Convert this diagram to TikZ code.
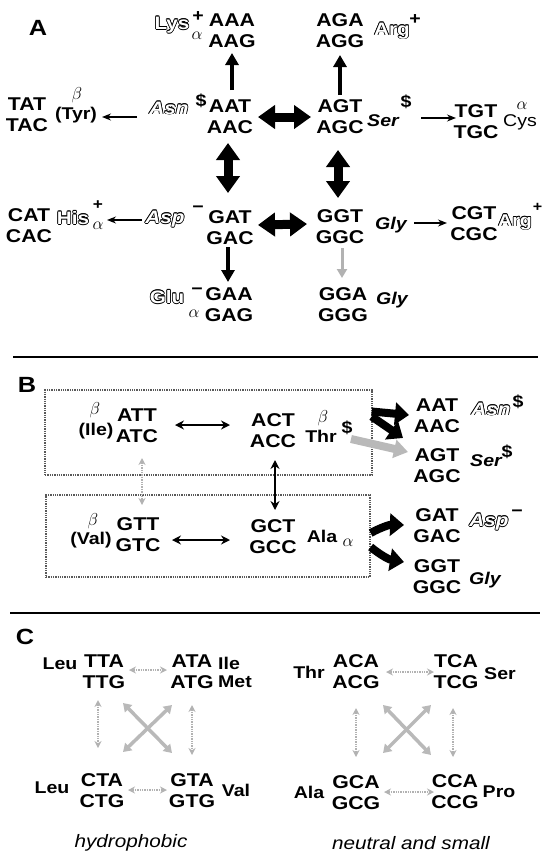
\documentclass[tikz,border=0pt]{standalone}
\usepackage{fontspec}
\setmainfont[FakeStretch=1.15]{Liberation Sans}
\newfontfamily\codfont[FakeStretch=1.15]{Liberation Sans}
\usetikzlibrary{arrows.meta,calc}
\newcommand\hol[1]{{\setbox0=\hbox{#1}%
\rlap{\kern-.7pt\copy0}\rlap{\kern.7pt\copy0}%
\rlap{\raise.7pt\copy0}\rlap{\lower.7pt\copy0}%
\rlap{\kern-.5pt\raise.5pt\copy0}\rlap{\kern.5pt\raise.5pt\copy0}%
\rlap{\kern-.5pt\lower.5pt\copy0}\rlap{\kern.5pt\lower.5pt\copy0}%
{\color{white}\box0}}}
\tikzset{
 cod/.style={font=\codfont\bfseries\fontsize{18.5}{21}\selectfont, align=center, inner sep=0pt},
 lab/.style={font=\bfseries\fontsize{17}{20}\selectfont, inner sep=0pt},
 labi/.style={font=\bfseries\itshape\fontsize{17}{20}\selectfont, inner sep=0pt},
 hl/.style={font=\bfseries\fontsize{18}{20}\selectfont, inner sep=0pt},
 hli/.style={font=\bfseries\itshape\fontsize{18}{20}\selectfont, inner sep=0pt},
 supr/.style={font=\bfseries\fontsize{17}{17}\selectfont, inner sep=0pt},
 grk/.style={font=\fontsize{16}{16}\selectfont, inner sep=0pt},
 panel/.style={font=\bfseries\fontsize{22}{22}\selectfont, inner sep=0pt},
 capt/.style={font=\itshape\fontsize{18}{20}\selectfont, inner sep=0pt},
 bbox/.style={draw=gray!70!black, densely dotted, line width=1.3pt, inner sep=0pt},
 sep/.style={line width=1.5pt},
 tarr/.style={line width=1.3pt, -{Stealth[length=9pt,width=7pt]}},
 tdbl/.style={line width=1.7pt, {Stealth[length=9pt,width=9pt]}-{Stealth[length=9pt,width=9pt]}},
 bigdbl/.style={line width=9pt, {Triangle[length=17pt,width=23pt]}-{Triangle[length=17pt,width=23pt]}},
 med/.style={line width=4.5pt, -{Triangle[length=12pt,width=13pt]}},
 gmed/.style={line width=3pt, gray!60, -{Triangle[length=9pt,width=10pt]}},
 bigB/.style={line width=8pt, -{Triangle[length=14pt,width=22pt]}},
 gbigB/.style={line width=8pt, gray!55, -{Triangle[length=14pt,width=18pt]}},
 gdbl/.style={line width=1.4pt, gray!60, densely dotted, {Stealth[open,length=7pt,width=7pt]}-{Stealth[open,length=7pt,width=7pt]}},
 gx/.style={line width=3.5pt, gray!55, {Triangle[length=8pt,width=10pt]}-{Triangle[length=8pt,width=10pt]}}
}
\begin{document}
\begin{tikzpicture}[x=1pt,y=-1pt]
\useasboundingbox (0,0) rectangle (542,854);
% ---------------- Panel A
\node[panel] (pA) at (38,28) {A};
\node[cod] (aaa) at (232,31) {AAA\\AAG};
\node[hl] (lys) at (172,25) {\hol{Lys}};
\node[supr] (lysp) at (198,17) {+};
\node[grk] (lysa) at (197,36) {$\alpha$};
\node[cod] (aga) at (340,31) {AGA\\AGG};
\node[hl] (arg1) at (392,31) {\hol{Arg}};
\node[supr] (arg1p) at (415,20) {+};
\node[cod] (aat) at (230,117) {AAT\\AAC};
\node[cod] (agt) at (340,117) {AGT\\AGC};
\node[hli] (asn) at (169,108) {\hol{Asn}};
\node[supr] (asnd) at (201,101) {\$};
\node[lab] (tyr) at (76,115) {(Tyr)};
\node[grk] (tyrb) at (77,95) {$\beta$};
\node[cod] (tat) at (27,115) {TAT\\TAC};
\node[labi] (ser) at (383,121) {Ser};
\node[supr] (serd) at (406,102) {\$};
\node[cod] (tgt) at (476,122) {TGT\\TGC};
\node[font=\fontsize{17}{17}\selectfont, inner sep=0pt] (cys) at (520,122) {Cys};
\node[grk] (cysa) at (522,106) {$\alpha$};
\node[cod] (gat) at (230,228) {GAT\\GAC};
\node[cod] (ggt) at (340,227) {GGT\\GGC};
\node[hli] (asp) at (165,219) {\hol{Asp}};
\node[supr] (aspm) at (198,209) {−};
\node[hl] (his) at (73,218) {\hol{His}};
\node[inner sep=0pt, font=\bfseries\fontsize{15}{15}\selectfont] (hisp) at (98,205) {+};
\node[grk] (hisa) at (98,226) {$\alpha$};
\node[cod] (cat) at (29,226) {CAT\\CAC};
\node[labi] (gly1) at (391,225) {Gly};
\node[cod] (cgt) at (474,224) {CGT\\CGC};
\node[hl, font=\bfseries\fontsize{17}{20}\selectfont] (arg2) at (515,222) {\hol{Arg}};
\node[inner sep=0pt, font=\bfseries\fontsize{14}{14}\selectfont] (arg2p) at (537.5,207) {+};
\node[cod] (gaa) at (229,305) {GAA\\GAG};
\node[hl] (glu) at (167,297) {\hol{Glu}};
\node[supr] (glum) at (197,291) {−};
\node[grk] (glua) at (194,314) {$\alpha$};
\node[cod] (gga) at (343,305) {GGA\\GGG};
\node[labi] (gly2) at (392,300) {Gly};
% connectors A
\draw[bigdbl] ($(aat.center)+(28,0)$) -- ($(agt.center)+(-29,0)$);
\draw[bigdbl] ($(aat.center)+(-2,26)$) -- ($(gat.center)+(-2,-35)$);
\draw[bigdbl] ($(agt.center)+(-2,33)$) -- ($(ggt.center)+(-2,-29)$);
\draw[bigdbl] ($(gat.center)+(28,-3)$) -- ($(ggt.center)+(-33,-3)$);
\draw[med] ($(aat.center)+(2,-27)$) -- ($(aaa.center)+(0,22)$);
\draw[med] ($(agt.center)+(0,-22)$) -- ($(aga.center)+(0,24)$);
\draw[med] ($(gat.center)+(-2,19)$) -- ($(gaa.center)+(-1,-23)$);
\draw[gmed] ($(ggt.center)+(2,21)$) -- ($(gga.center)+(-1,-27)$);
\draw[tarr] ($(asn.center)+(-32,9)$) -- ($(tyr.center)+(26,2)$);
\draw[tarr] ($(ser.center)+(38,-3)$) -- ($(tgt.center)+(-20,-4)$);
\draw[tarr] ($(asp.center)+(-23,1)$) -- ($(his.center)+(34,2)$);
\draw[tarr] ($(gly1.center)+(23,-2)$) -- ($(cgt.center)+(-27,-1)$);
\draw[sep] (13,357) -- (538,357);
% ---------------- Panel B
\node[panel] (pB) at (27,385) {B};
\node[bbox, minimum width=327pt, minimum height=85pt] (ubox) at (208.5,432.5) {};
\node[bbox, minimum width=324pt, minimum height=82pt] (lbox) at (208,536) {};
\node[cod] (att) at (137,426) {ATT\\ATC};
\node[grk] (ileb) at (95,410) {$\beta$};
\node[lab] (ile) at (96,431) {(Ile)};
\node[cod] (act) at (273,431) {ACT\\ACC};
\node[grk] (thrb) at (323,418) {$\beta$};
\node[lab] (thr) at (321,436) {Thr};
\node[supr] (thrd) at (347,428) {\$};
\node[cod] (gtt) at (138,535) {GTT\\GTC};
\node[grk] (valb) at (93,521) {$\beta$};
\node[lab] (val) at (91,540) {(Val)};
\node[cod] (gct) at (273,537) {GCT\\GCC};
\node[lab] (ala) at (322,536) {Ala};
\node[grk] (alaa) at (348,543) {$\alpha$};
\node[cod] (aatB) at (437,416) {AAT\\AAC};
\node[hli] (asnB) at (491,409) {\hol{Asn}};
\node[supr] (asnBd) at (518,402) {\$};
\node[cod] (agtB) at (437,466) {AGT\\AGC};
\node[labi] (serB) at (486,461) {Ser};
\node[supr] (serBd) at (507,452) {\$};
\node[cod] (gatB) at (437,526) {GAT\\GAC};
\node[hli] (aspB) at (489,522) {\hol{Asp}};
\node[supr] (aspBm) at (517,513) {−};
\node[cod] (ggtB) at (437,577) {GGT\\GGC};
\node[labi] (glyB) at (485,580) {Gly};
% connectors B
\draw[tdbl] ($(att.center)+(38,-1)$) -- ($(act.center)+(-43,-6)$);
\draw[tdbl] ($(act.center)+(2,29)$) -- ($(gct.center)+(2,-27)$);
\draw[gdbl] ($(att.center)+(5,32)$) -- ($(gtt.center)+(4,-30)$);
\draw[tdbl] ($(gtt.center)+(34,5)$) -- ($(gct.center)+(-43,3)$);
\draw[gbigB] ($(thr.center)+(30,3)$) -- ($(agtB.center)+(-29,-14)$);
\draw[bigB] ($(ubox.east)+(-1,-21)$) -- ($(aatB.center)+(-28,-1)$);
\draw[bigB] ($(ubox.east)+(-1,-16)$) -- ($(agtB.center)+(-34,-28)$);
\draw[bigB] ($(lbox.east)+(0,-3)$) to[bend left=15] ($(gatB.center)+(-33,-1)$);
\draw[bigB] ($(lbox.east)+(0,11)$) to[bend right=15] ($(ggtB.center)+(-33,-15)$);
\draw[sep] (10,613) -- (540,613);
% ---------------- Panel C
\node[panel] (pC) at (25,637) {C};
\node[lab] (leu1) at (60,664) {Leu};
\node[cod] (tta) at (104,672) {TTA\\TTG};
\node[cod] (ata) at (192,672) {ATA\\ATG};
\node[lab, anchor=west] (ile2) at (218,663) {Ile};
\node[lab, anchor=west] (met) at (218,682) {Met};
\node[lab] (leu2) at (52,788) {Leu};
\node[cod] (cta) at (102,791) {CTA\\CTG};
\node[cod] (gta) at (192,791) {GTA\\GTG};
\node[lab] (val2) at (236,790) {Val};
\node[capt] (hyd) at (131,843) {hydrophobic};
\node[lab] (thr2) at (309,672) {Thr};
\node[cod] (aca) at (356,672) {ACA\\ACG};
\node[cod] (tca) at (456,672) {TCA\\TCG};
\node[lab] (ser2) at (500,674) {Ser};
\node[lab] (ala2) at (309,792) {Ala};
\node[cod] (gca) at (356,793) {GCA\\GCG};
\node[cod] (cca) at (455,792) {CCA\\CCG};
\node[lab] (pro) at (499,792) {Pro};
\node[capt] (neu) at (411,843) {neutral and small};
% connectors C
\draw[gdbl] ($(tta.center)+(25,-2)$) -- ($(ata.center)+(-25,-2)$);
\draw[gdbl] ($(cta.center)+(26,-1)$) -- ($(gta.center)+(-25,-1)$);
\draw[gdbl] ($(tta.center)+(-6,28)$) -- ($(cta.center)+(-4,-43)$);
\draw[gdbl] ($(ata.center)+(0,33)$) -- ($(gta.center)+(0,-36)$);
\draw[gx] ($(tta.center)+(19,31)$) -- ($(gta.center)+(-20,-38)$);
\draw[gx] ($(ata.center)+(-20,33)$) -- ($(cta.center)+(21,-39)$);
\draw[gdbl] ($(aca.center)+(30,0)$) -- ($(tca.center)+(-22,0)$);
\draw[gdbl] ($(gca.center)+(28,-1)$) -- ($(cca.center)+(-21,0)$);
\draw[gdbl] ($(aca.center)+(0,36)$) -- ($(gca.center)+(0,-36)$);
\draw[gdbl] ($(tca.center)+(-3,36)$) -- ($(cca.center)+(-2,-35)$);
\draw[gx] ($(aca.center)+(27,33)$) -- ($(cca.center)+(-24,-37)$);
\draw[gx] ($(tca.center)+(-25,33)$) -- ($(gca.center)+(27,-40)$);
\end{tikzpicture}
\end{document}
